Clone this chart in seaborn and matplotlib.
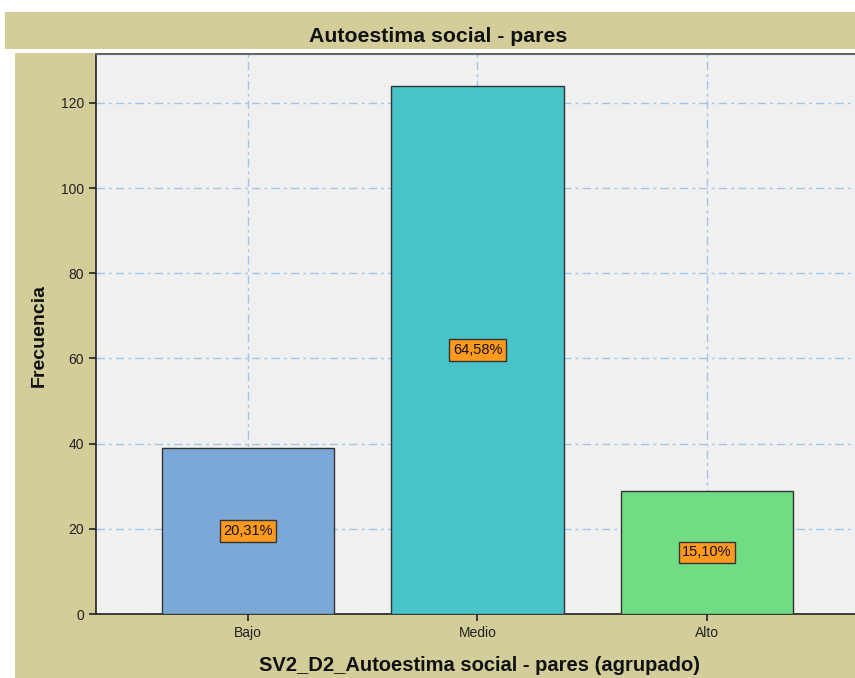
import matplotlib
matplotlib.use("Agg")
import matplotlib.pyplot as plt
import seaborn as sns
import pandas as pd
from matplotlib.patches import Rectangle

# Data
categorias = ["Bajo", "Medio", "Alto"]
frecuencias = [39, 124, 29]
colores = ["#7ba8d6", "#48c3c7", "#70dc84"]
yticks = [0, 20, 40, 60, 80, 100, 120]

df = pd.DataFrame({"categoria": categorias, "frecuencia": frecuencias})
total = sum(frecuencias)

sns.set_style("white")
plt.rcParams["font.family"] = ["Liberation Sans", "DejaVu Sans"]

tan = "#d3cd99"
fig = plt.figure(figsize=(8.55, 6.78), dpi=100)
W, H = 855, 678

# background panels (title bar + main panel)
fig.patches.append(Rectangle((5 / W, 1 - 49 / H), 1, 37 / H, transform=fig.transFigure,
                             facecolor=tan, edgecolor="none", zorder=-2))
fig.patches.append(Rectangle((15 / W, 0), 1, 1 - 53 / H, transform=fig.transFigure,
                             facecolor=tan, edgecolor="none", zorder=-2))
fig.text(438 / W, 1 - 42 / H, "Autoestima social - pares", ha="center", va="baseline",
         fontsize=15.3, fontweight="bold", color="#111111")

ax = fig.add_axes([96 / W, 1 - 614 / H, (W - 96) / W, (614 - 54) / H])
ax.set_facecolor("#f0f0f0")

sns.barplot(data=df, x="categoria", y="frecuencia", hue="categoria", palette=colores,
            saturation=1, width=0.75, edgecolor="#333333", linewidth=1.0, legend=False,
            ax=ax, zorder=3)

ax.set_xlim(-0.662, 2.645)
ax.set_ylim(0, 131.5)
ax.set_yticks(yticks)
ax.grid(True, color="#a2c4e8", linestyle=(0, (6, 3, 2, 3)), linewidth=1.0, zorder=0)
ax.set_axisbelow(True)

ax.spines["right"].set_visible(False)
for s in ["left", "bottom"]:
    ax.spines[s].set_color("#222222")
    ax.spines[s].set_linewidth(1.2)
ax.spines["top"].set_color("#666666")
ax.spines["top"].set_linewidth(1.5)

ax.tick_params(axis="both", direction="out", length=5, width=1.2, color="#222222",
               labelsize=10, labelcolor="#222222", left=True, bottom=True)

ax.set_xlabel("SV2_D2_Autoestima social - pares (agrupado)", fontsize=14.5, fontweight="bold",
              color="#111111")
ax.xaxis.set_label_coords(0.505, -0.075)
ax.set_ylabel("Frecuencia", fontsize=14, fontweight="bold", color="#111111")
ax.yaxis.set_label_coords(-0.063, 0.498)

for i, f in enumerate(frecuencias):
    pct = f"{100 * f / total:.2f}%".replace(".", ",")
    ax.text(i, f / 2, pct, ha="center", va="center", fontsize=10.5, color="#111111", zorder=5,
            bbox=dict(boxstyle="square,pad=0.25", facecolor="#ff9a1e", edgecolor="#333333",
                      linewidth=1.0))

fig.savefig("out.png", dpi=100)
